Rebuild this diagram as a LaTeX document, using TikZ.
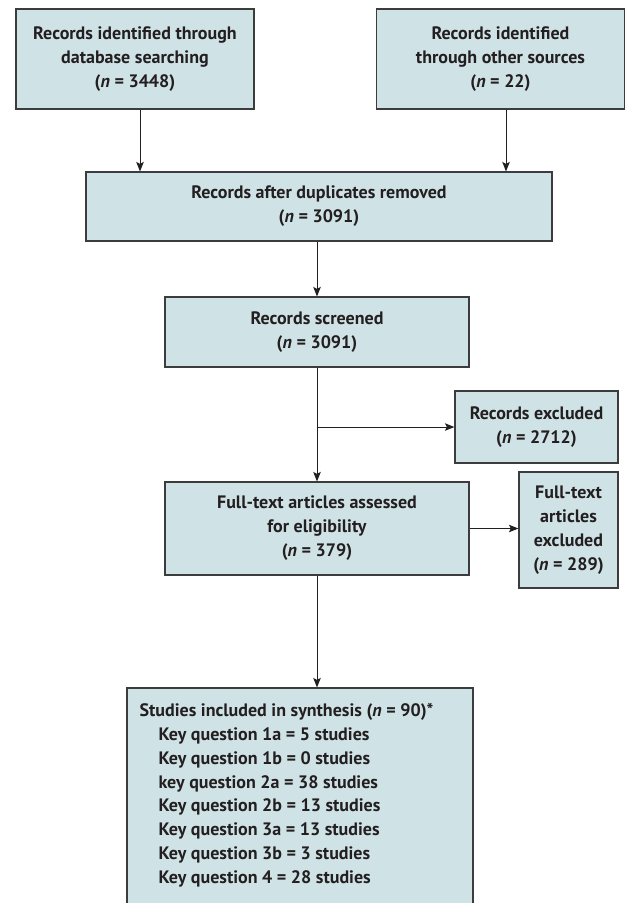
\documentclass[tikz,border=0pt]{standalone}
\usepackage{fontspec}
\setmainfont{PT Sans}
\usetikzlibrary{arrows.meta}
\definecolor{boxfill}{RGB}{207,226,230}
\definecolor{boxline}{RGB}{60,60,60}
\definecolor{ink}{RGB}{35,31,32}
\tikzset{
  box/.style={draw=boxline, line width=1.2pt, fill=boxfill, inner sep=0pt,
    align=center, text=ink, font=\fontsize{18}{24}\selectfont\bfseries},
  conn/.style={draw=ink, line width=1pt, -{Stealth[length=9.5pt,width=7.5pt,inset=2pt]}},
  listtext/.style={inner sep=0pt, anchor=north west, align=left, text=ink,
    font=\fontsize{18}{23.8}\selectfont\bfseries}
}
\begin{document}
\begin{tikzpicture}[x=1pt,y=-1pt]
\useasboundingbox (0,0) rectangle (626,903);
\clip (0,0) rectangle (626,903);
\node[box, minimum width=238pt, minimum height=100pt] (a) at (135,59)
  {Records identified through\\database searching\\(\textit{n} = 3448)};
\node[box, minimum width=248pt, minimum height=100pt] (b) at (500.5,59)
  {Records identified\\through other sources\\(\textit{n} = 22)};
\node[box, minimum width=466pt, minimum height=69pt] (c) at (319,206.5)
  {Records after duplicates removed\\(\textit{n} = 3091)};
\node[box, minimum width=304pt, minimum height=70pt] (d) at (317,332)
  {Records screened\\(\textit{n} = 3091)};
\node[box, minimum width=163pt, minimum height=72pt] (e) at (536.5,427)
  {Records excluded\\(\textit{n} = 2712)};
\node[box, minimum width=304pt, minimum height=93pt] (f) at (317,528.5)
  {Full-text articles assessed\\for eligibility\\(\textit{n} = 379)};
\node[box, minimum width=99pt, minimum height=116pt] (g) at (568.5,530)
  {Full-text\\articles\\excluded\\(\textit{n} = 289)};
\node[box, minimum width=346pt, minimum height=232pt] (h) at (300,804) {};
\node[listtext] (ht) at ([xshift=13pt,yshift=-16pt]h.north west)
  {Studies included in synthesis (\textit{n} = 90)*\\
   \hspace*{19pt}Key question 1a = 5 studies\\
   \hspace*{19pt}Key question 1b = 0 studies\\
   \hspace*{19pt}key question 2a = 38 studies\\
   \hspace*{19pt}Key question 2b = 13 studies\\
   \hspace*{19pt}Key question 3a = 13 studies\\
   \hspace*{19pt}Key question 3b = 3 studies\\
   \hspace*{19pt}Key question 4 = 28 studies};
\coordinate (br) at (d.south |- e.west);
\draw[conn] ([xshift=5pt]a.south) -- ([xshift=5pt]a.south |- c.north);
\draw[conn] ([xshift=5.5pt]b.south) -- ([xshift=5.5pt]b.south |- c.north);
\draw[conn] (d.north |- c.south) -- (d.north);
\draw[conn] (d.south) -- (f.north);
\draw[conn] (br) -- (e.west);
\draw[conn] (f.east) -- (g.west |- f.east);
\draw[conn] (f.south) -- (f.south |- h.north);
\end{tikzpicture}
\end{document}
